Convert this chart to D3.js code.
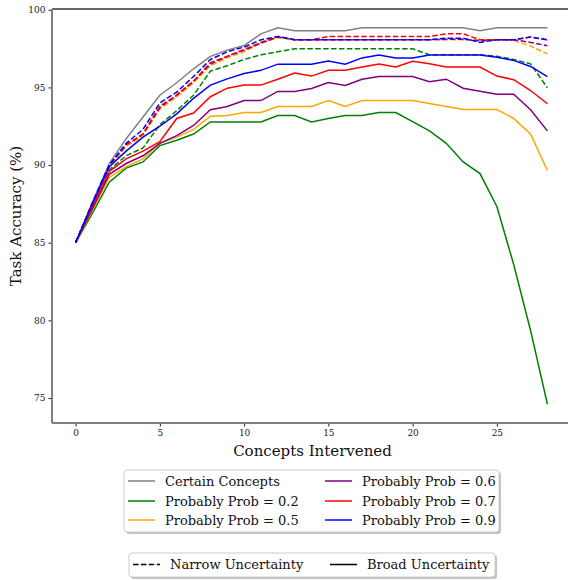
<!DOCTYPE html>
<html>
<head>
<meta charset="utf-8">
<script src="https://cdn.jsdelivr.net/npm/d3@7"></script>
<style>
  body { margin: 0; background: #fff; }
  svg { display: block; font-family: "DejaVu Serif", serif; }
</style>
</head>
<body>
<div id="chart"></div>
<script>
// x values (number of concepts intervened)
var concepts = [0,1,2,3,4,5,6,7,8,9,10,11,12,13,14,15,16,17,18,19,20,21,22,23,24,25,26,27,28];

// Certain concepts
var certain = [85,87.6,90.1,91.7,93.1,94.5,95.3,96.2,97.0,97.4,97.7,98.45,98.84,98.65,98.65,98.65,98.65,98.84,98.84,98.84,98.84,98.84,98.84,98.84,98.65,98.84,98.84,98.84,98.84];

// Broad uncertainty (solid)
var broad02 = [85,86.9,88.9,89.8,90.2,91.25,91.6,92.0,92.78,92.78,92.78,92.78,93.19,93.19,92.78,93.0,93.19,93.19,93.38,93.38,92.8,92.2,91.4,90.2,89.45,87.33,83.6,79.35,74.6];
var broad05 = [85,87.1,89.2,89.9,90.4,91.4,91.8,92.3,93.15,93.19,93.38,93.38,93.77,93.77,93.77,94.16,93.77,94.16,94.16,94.16,94.16,93.96,93.77,93.58,93.58,93.58,93.0,92.0,89.65];
var broad06 = [85,87.2,89.4,90.1,90.6,91.4,91.9,92.55,93.56,93.77,94.15,94.15,94.74,94.74,94.93,95.32,95.12,95.53,95.7,95.7,95.7,95.36,95.53,94.95,94.76,94.56,94.56,93.56,92.2];
var broad07 = [85,87.3,89.6,90.4,90.9,91.5,93.0,93.35,94.4,94.95,95.15,95.15,95.53,95.92,95.73,96.11,96.11,96.31,96.5,96.31,96.69,96.52,96.31,96.31,96.31,95.73,95.5,94.8,93.95];
var broad09 = [85,87.5,89.9,90.9,91.8,92.5,93.3,94.3,95.15,95.55,95.9,96.1,96.5,96.5,96.5,96.7,96.5,96.9,97.08,96.9,96.9,97.08,97.08,97.08,97.08,96.95,96.74,96.35,95.7];

// Narrow uncertainty (dashed)
var narrow02 = [85,87.2,89.7,90.6,91.1,92.6,93.5,94.5,96.05,96.4,96.8,97.1,97.3,97.49,97.49,97.49,97.49,97.49,97.49,97.49,97.49,97.1,97.1,97.1,97.1,97.0,96.8,96.52,94.97];
var narrow05 = [85,87.4,89.9,91.2,91.9,93.6,94.4,95.3,96.4,96.9,97.3,97.85,98.2,98.07,98.07,98.07,98.07,98.07,98.07,98.07,98.07,98.07,98.07,98.07,98.07,98.07,98.02,97.66,97.16];
var narrow06 = [85,87.5,90.0,91.3,92.0,93.7,94.5,95.4,96.5,97.0,97.4,97.85,98.25,98.07,98.07,98.07,98.07,98.07,98.07,98.07,98.07,98.07,98.1,98.1,98.0,98.07,98.07,97.9,97.68];
var narrow07 = [85,87.5,90.0,91.3,92.0,93.8,94.5,95.4,96.6,97.0,97.45,97.9,98.28,98.07,98.07,98.28,98.28,98.28,98.28,98.28,98.28,98.28,98.45,98.45,98.07,98.07,98.07,98.24,98.07];
var narrow09 = [85,87.6,90.0,91.4,92.3,94.0,94.7,95.7,96.8,97.3,97.6,98.07,98.28,98.07,98.07,98.07,98.07,98.07,98.07,98.07,98.07,98.07,98.17,98.17,97.9,98.07,98.07,98.24,98.07];

var legendLabels = ["Certain Concepts","Probably Prob = 0.2","Probably Prob = 0.5","Probably Prob = 0.6","Probably Prob = 0.7","Probably Prob = 0.9"];
var legendColors = ["gray","green","orange","purple","red","blue"];
var styleLabels = ["Narrow Uncertainty","Broad Uncertainty"];

var xTicks = [0,5,10,15,20,25];
var yTicks = [75,80,85,90,95,100];

//Define SVG area
var svgWidth = 568;
var svgHeight = 580;

//Plot box in pixels (right side runs past the picture edge)
var plot = { left: 52, top: 9, right: 571, bottom: 423 };

var svg = d3.select("#chart")
    .append("svg")
    .attr("width", svgWidth)
    .attr("height", svgHeight);

var xScale = d3.scaleLinear()
    .domain([-1.4, 29.4])
    .range([plot.left, plot.right]);

var yScale = d3.scaleLinear()
    .domain([73.39, 100.05])
    .range([plot.bottom, plot.top]);

//Axes
var xAxis = svg.append("g")
    .attr("transform", `translate(0, ${plot.bottom})`)
    .call(d3.axisBottom(xScale).tickValues(xTicks).tickSize(3.5).tickPadding(3).tickFormat(d3.format("d")));

var yAxis = svg.append("g")
    .attr("transform", `translate(${plot.left}, 0)`)
    .call(d3.axisLeft(yScale).tickValues(yTicks).tickSize(3.5).tickPadding(3).tickFormat(d3.format("d")));

[xAxis, yAxis].forEach(function(ax) {
    ax.select(".domain").remove();
    ax.selectAll("line").attr("stroke", "#222").attr("stroke-width", 1);
    ax.selectAll("text")
        .attr("fill", "#222")
        .style("font-family", "DejaVu Serif")
        .style("font-size", "9px");
});

//Lines
var line = d3.line()
    .x(function(d, i) { return xScale(concepts[i]); })
    .y(function(d) { return yScale(d); });

var series = [
    { values: certain, color: "gray", dash: null },
    { values: broad02, color: "green", dash: null },
    { values: narrow02, color: "green", dash: "5.5,2.4" },
    { values: broad05, color: "orange", dash: null },
    { values: narrow05, color: "orange", dash: "5.5,2.4" },
    { values: broad06, color: "purple", dash: null },
    { values: narrow06, color: "purple", dash: "5.5,2.4" },
    { values: broad07, color: "red", dash: null },
    { values: narrow07, color: "red", dash: "5.5,2.4" },
    { values: broad09, color: "blue", dash: null },
    { values: narrow09, color: "blue", dash: "5.5,2.4" }
];

svg.append("g").selectAll("path")
    .data(series)
    .enter()
    .append("path")
    .attr("d", function(s) { return line(s.values); })
    .attr("fill", "none")
    .attr("stroke", function(s) { return s.color; })
    .attr("stroke-width", 1.5)
    .attr("stroke-dasharray", function(s) { return s.dash; });

//Spines
svg.append("line").attr("x1", plot.left).attr("x2", plot.right).attr("y1", plot.top).attr("y2", plot.top)
    .attr("stroke", "#333").attr("stroke-width", 1.5);
svg.append("line").attr("x1", plot.left).attr("x2", plot.right).attr("y1", plot.bottom).attr("y2", plot.bottom)
    .attr("stroke", "#808080").attr("stroke-width", 2);
svg.append("line").attr("x1", plot.left).attr("x2", plot.left).attr("y1", plot.top).attr("y2", plot.bottom)
    .attr("stroke", "#808080").attr("stroke-width", 2);

//Axis labels
svg.append("text")
    .attr("x", (plot.left + plot.right) / 2 + 1)
    .attr("y", 456)
    .attr("text-anchor", "middle")
    .style("font-size", "15px")
    .attr("fill", "#111")
    .text("Concepts Intervened");

svg.append("text")
    .attr("transform", `translate(21, ${(plot.top + plot.bottom) / 2}) rotate(-90)`)
    .attr("text-anchor", "middle")
    .style("font-size", "15px")
    .attr("fill", "#111")
    .text("Task Accuracy (%)");

//Legend box helper
function legendBox(x, y, w, h) {
    svg.append("rect")
        .attr("x", x + 2).attr("y", y + 2).attr("width", w).attr("height", h)
        .attr("rx", 3).attr("fill", "#999").attr("opacity", 0.6);
    svg.append("rect")
        .attr("x", x).attr("y", y).attr("width", w).attr("height", h)
        .attr("rx", 3).attr("fill", "#fff").attr("stroke", "#ccc").attr("stroke-width", 1);
}

//Colour legend
legendBox(124, 470, 375, 62);
var colX = [128, 325];
var rowY = [481, 501, 520];
legendLabels.forEach(function(lab, i) {
    var cx = colX[Math.floor(i / 3)];
    var cy = rowY[i % 3];
    svg.append("line")
        .attr("x1", cx).attr("x2", cx + 27).attr("y1", cy).attr("y2", cy)
        .attr("stroke", legendColors[i]).attr("stroke-width", 1.5);
    svg.append("text")
        .attr("x", cx + 37).attr("y", cy + 4.5)
        .style("font-size", "13px")
        .attr("fill", "#111")
        .text(lab);
});

//Line style legend
legendBox(129, 553, 366, 24);
var styleX = [133, 330];
styleLabels.forEach(function(lab, i) {
    svg.append("line")
        .attr("x1", styleX[i]).attr("x2", styleX[i] + 27).attr("y1", 564.5).attr("y2", 564.5)
        .attr("stroke", "#000").attr("stroke-width", 1.5)
        .attr("stroke-dasharray", i === 0 ? "5.5,2.4" : null);
    svg.append("text")
        .attr("x", styleX[i] + 37).attr("y", 569)
        .style("font-size", "13px")
        .attr("fill", "#111")
        .text(lab);
});
</script>
</body>
</html>
